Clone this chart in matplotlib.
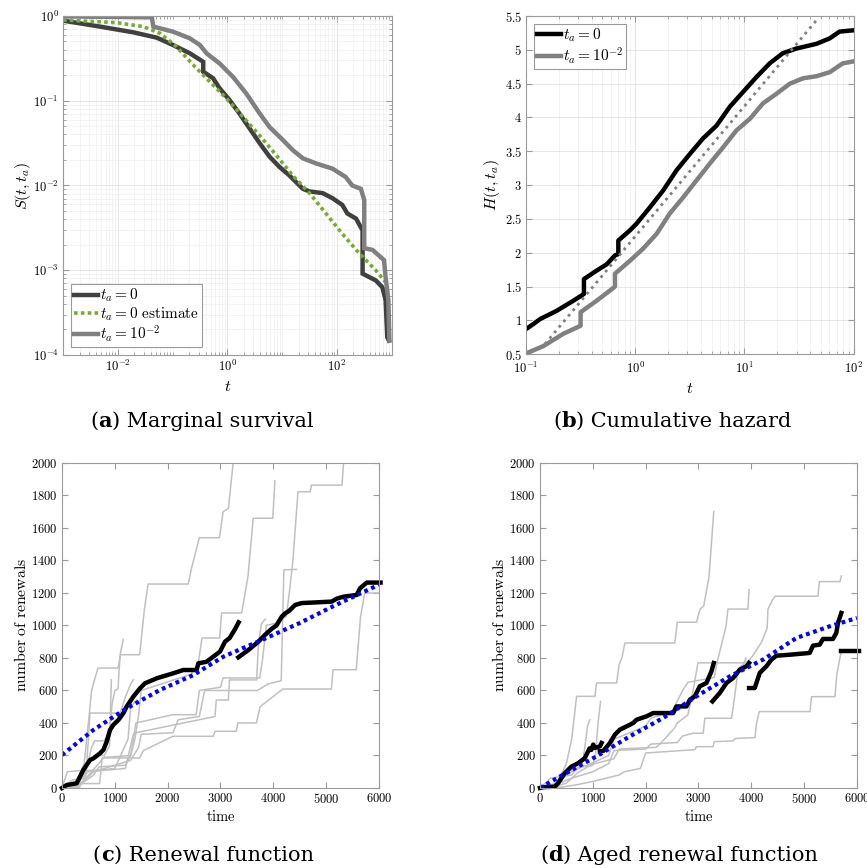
import numpy as np
import matplotlib
matplotlib.use("Agg")
import matplotlib.pyplot as plt
from matplotlib.ticker import FixedLocator, LogLocator, FuncFormatter, NullFormatter, MultipleLocator

plt.rcParams['mathtext.fontset'] = 'cm'
plt.rcParams['font.family'] = 'serif'
plt.rcParams['font.serif'] = ['DejaVu Serif']
plt.rcParams['axes.unicode_minus'] = False

# ---------------- (a) marginal survival ----------------
a_t0 = [0.001, 0.00479, 0.0193, 0.0513, 0.102, 0.2065, 0.363, 0.363, 0.55, 0.724, 1.096, 1.66,
        2.57, 3.89, 5.89, 8.91, 13.5, 24.0, 31.6, 55.0, 83.2, 126, 155, 224, 295, 295, 513, 676,
        776, 832, 891]
a_S0 = [0.881, 0.748, 0.641, 0.555, 0.454, 0.363, 0.288, 0.220, 0.184, 0.140, 0.102, 0.0708,
        0.0468, 0.0316, 0.0219, 0.0166, 0.0132, 0.00912, 0.00851, 0.00813, 0.00708, 0.00589,
        0.00468, 0.00407, 0.00295, 0.000912, 0.000759, 0.000631, 0.000447, 0.000162, 0.000148]
a_test = [0.001, 0.00955, 0.0295, 0.0589, 0.1175, 0.24, 0.479, 0.955, 1.93, 3.89, 7.76, 15.5,
          31.6, 63.1, 126, 257, 513, 776]
a_Sest = [0.897, 0.834, 0.748, 0.624, 0.435, 0.263, 0.1675, 0.107, 0.0646, 0.0389, 0.0229,
          0.0132, 0.00813, 0.00468, 0.00269, 0.00158, 0.001, 0.000724]
a_t1 = [0.001, 0.0417, 0.0447, 0.102, 0.2065, 0.316, 0.417, 0.724, 1.26, 2.21, 3.89, 5.89, 10.2,
        15.5, 24.0, 41.7, 83.2, 145, 191, 275, 316, 316, 447, 724, 776, 871, 912]
a_S1 = [0.989, 0.964, 0.748, 0.653, 0.545, 0.454, 0.363, 0.275, 0.192, 0.122, 0.0708, 0.049,
        0.0347, 0.0263, 0.0209, 0.0182, 0.0158, 0.0126, 0.01, 0.00912, 0.00676, 0.00182,
        0.00174, 0.00132, 0.000832, 0.000447, 0.000148]

# ---------------- (b) cumulative hazard ----------------
b_t0 = [0.1, 0.1167, 0.135, 0.1905, 0.271, 0.339, 0.339, 0.443, 0.5495, 0.652, 0.700, 0.700,
        0.893, 1.028, 1.36, 1.80, 2.39, 3.16, 4.17, 5.55, 7.35, 9.73, 12.9, 17.0, 22.4, 29.9,
        45.7, 60.3, 74.1, 100]
b_H0 = [0.87, 0.945, 1.02, 1.14, 1.29, 1.39, 1.61, 1.735, 1.83, 1.96, 1.98, 2.18, 2.33, 2.43,
        2.67, 2.92, 3.22, 3.46, 3.69, 3.88, 4.16, 4.38, 4.60, 4.80, 4.95, 5.02, 5.09, 5.17,
        5.27, 5.29]
b_t1 = [0.1, 0.1445, 0.219, 0.316, 0.316, 0.443, 0.586, 0.652, 0.652, 0.893, 1.18, 1.57, 2.07,
        2.75, 3.64, 4.82, 6.38, 8.45, 11.2, 14.8, 19.6, 26.0, 34.4, 45.6, 60.3, 79.4, 100]
b_H1 = [0.51, 0.62, 0.80, 0.92, 1.12, 1.29, 1.44, 1.50, 1.69, 1.88, 2.06, 2.28, 2.58, 2.82,
        3.07, 3.32, 3.56, 3.81, 3.98, 4.21, 4.35, 4.50, 4.58, 4.61, 4.67, 4.80, 4.83]
b_tfit = [0.149, 45.7]
b_Hfit = [0.65, 5.44]

# ---------------- (c) renewal function ----------------
c_runs_t = [
    [0, 200, 300, 420, 500, 560, 680, 1060, 1110, 1470, 1560, 1630, 2390, 2450, 2600, 2980, 3050, 3150, 3240],
    [0, 300, 450, 560, 620, 800, 900, 950, 1000, 1060, 1100, 1160],
    [0, 350, 800, 900, 1300, 1380, 1450, 1500, 2350, 2450, 2580, 2650, 2985, 3020, 3400, 3520, 3620, 3990, 4030],
    [0, 300, 600, 700, 1200, 1300, 1400, 2100, 2540, 2600, 3000, 3050, 3742, 3800, 3868, 4057, 4247, 4310, 4372, 4467, 4700, 4720, 5300, 5330],
    [0, 400, 600, 900, 1300, 1450, 1500, 2100, 2200, 2600, 2700, 3700, 3800, 3900, 4150, 4200, 4440],
    [0, 334, 360, 713, 760, 1470, 1540, 2100, 2860, 2900, 3300, 3330, 3680, 3750, 4180, 5100, 5130, 5570, 5650, 5730, 6000],
    [0, 250, 500, 1200, 1250, 1350, 1400, 2600, 2896, 2920, 3149, 3170, 3685, 3720, 3780, 3850],
    [0, 100, 300, 700, 1000, 1250, 1300, 1413],
    [0, 150, 400, 450, 700, 800, 900, 935],
    [0, 200, 450, 500, 530, 1100, 1200, 1300, 1350],
]
c_runs_n = [
    [0, 10, 60, 150, 400, 600, 738, 738, 820, 820, 1100, 1255, 1255, 1350, 1540, 1540, 1700, 1720, 2000],
    [0, 20, 100, 250, 290, 290, 350, 520, 600, 610, 820, 915],
    [0, 20, 190, 190, 200, 300, 450, 600, 690, 700, 770, 923, 923, 1077, 1077, 1300, 1660, 1660, 1890],
    [0, 10, 80, 130, 140, 200, 400, 451, 451, 600, 620, 677, 677, 800, 1000, 1015, 1056, 1220, 1405, 1823, 1823, 1864, 1864, 2000],
    [0, 40, 100, 130, 170, 250, 330, 340, 420, 440, 600, 600, 620, 640, 660, 1343, 1345],
    [0, 5, 27, 27, 185, 185, 230, 318, 318, 349, 349, 400, 400, 500, 609, 609, 728, 728, 1050, 1200, 1200],
    [0, 30, 100, 120, 190, 330, 340, 420, 440, 541, 541, 665, 665, 900, 1014, 1040],
    [0, 100, 105, 110, 120, 300, 500, 541],
    [0, 5, 30, 150, 200, 200, 260, 666],
    [0, 50, 60, 300, 461, 461, 560, 640, 666],
]
c_black1_t = [0, 89, 278, 341, 404, 530, 593, 719, 783, 846, 909, 971, 1066, 1161, 1224, 1350, 1476,
              1570, 1793, 2108, 2297, 2549, 2581, 2738, 2864, 2990, 3085, 3174, 3269, 3344]
c_black1_n = [0, 18, 29, 70, 111, 172, 182, 213, 234, 285, 357, 388, 418, 460, 501, 562, 613,
              644, 675, 706, 726, 726, 767, 777, 808, 839, 900, 923, 974, 1019]
c_black2_t = [3338, 3527, 3716, 3843, 3970, 4060, 4159, 4222, 4300, 4411, 4537, 4800, 5105, 5200,
              5326, 5579, 5642, 5768, 6030]
c_black2_n = [804, 849, 900, 942, 980, 1000, 1054, 1074, 1090, 1126, 1138, 1142, 1147, 1165,
              1177, 1188, 1229, 1264, 1264]
c_mean_t = [0, 593, 1224, 1855, 2486, 3054, 3868, 4499, 5130, 6000]
c_mean_n = [203, 357, 490, 603, 695, 808, 923, 1015, 1118, 1251]

# ---------------- (d) aged renewal function ----------------
d_runs_t = [
    [0, 300, 400, 500, 600, 693, 1040, 1070, 1450, 1500, 1550, 1607, 2553, 2600, 2962, 3030, 3100, 3200, 3290],
    [0, 350, 500, 900, 1300, 1400, 2000, 2100, 2500, 2700, 2800, 3300, 3350, 3450, 3520, 3559, 3937, 3958],
    [0, 300, 600, 800, 1400, 1500, 2200, 2300, 2550, 2600, 2800, 2900, 2990, 3880, 4000, 4200, 4300, 4316, 4400, 4450, 5262, 5290, 5680, 5704],
    [0, 200, 400, 600, 700, 800, 850, 900, 945],
    [0, 400, 700, 1000, 1500, 1600, 1900, 2000, 2934, 2960, 3275, 3300, 3650, 3700, 4070, 4100, 4150, 5111, 5140, 5584, 5620, 5700, 5720, 6000],
    [0, 300, 600, 1000, 1300, 1400, 2000, 2100, 2600, 2700, 2902, 3091, 3120, 3628, 3700, 3750, 3800, 3850, 3900],
    [0, 300, 500, 700, 900, 1000, 1050, 1100, 1147],
]
d_runs_n = [
    [0, 20, 80, 150, 300, 564, 564, 646, 646, 760, 800, 892, 892, 1020, 1020, 1100, 1120, 1300, 1702],
    [0, 10, 100, 140, 200, 300, 380, 430, 470, 600, 650, 680, 769, 900, 993, 1101, 1101, 1220],
    [0, 30, 100, 130, 180, 240, 250, 280, 370, 400, 450, 600, 770, 770, 800, 900, 985, 1100, 1157, 1180, 1180, 1270, 1270, 1305],
    [0, 60, 70, 80, 120, 150, 250, 380, 420],
    [0, 5, 20, 40, 80, 100, 120, 215, 236, 254, 254, 285, 290, 305, 310, 400, 470, 470, 562, 562, 700, 839, 850, 850],
    [0, 20, 60, 100, 150, 230, 240, 270, 280, 320, 337, 337, 429, 429, 600, 726, 750, 760, 800],
    [0, 10, 30, 90, 130, 140, 200, 400, 533],
]
d_black_t = [
    [0, 63, 278, 341, 467, 593, 719, 846, 909, 940, 972, 1008, 1040, 1134, 1166],
    [1134, 1200, 1324, 1418, 1513, 1639, 1765, 1828, 2017, 2143, 2521, 2584, 2773, 2836, 2931, 3025, 3151, 3246, 3290],
    [3265, 3404, 3530, 3656, 3782, 3908, 3958],
    [3958, 4065, 4160, 4286, 4381, 4475, 4727, 5106, 5168, 5294, 5357, 5546, 5609, 5641, 5704],
    [5704, 6040],
]
d_black_n = [
    [0, 5, 8, 29, 90, 131, 152, 183, 224, 244, 234, 267, 246, 256, 277],
    [226, 228, 277, 328, 359, 379, 400, 420, 441, 461, 461, 502, 502, 543, 564, 626, 646, 718, 769],
    [533, 585, 646, 677, 728, 749, 769],
    [615, 615, 708, 749, 790, 814, 820, 831, 876, 882, 917, 917, 954, 1015, 1077],
    [845, 845],
]
d_mean_t = [0, 441, 1072, 1702, 2332, 2962, 3593, 4223, 4853, 5484, 6000]
d_mean_n = [0, 82, 195, 318, 431, 564, 687, 790, 923, 995, 1046]

# ---------------- figure ----------------
edge = '#9a9a9a'
fig = plt.figure(figsize=(8.67, 8.68), dpi=100)
axa = fig.add_axes([0.0727, 0.591, 0.379, 0.3906])
axb = fig.add_axes([0.6067, 0.592, 0.378, 0.3895])
axc = fig.add_axes([0.0715, 0.0922, 0.3656, 0.3744])
axd = fig.add_axes([0.6228, 0.0922, 0.3656, 0.3744])

logfmt = FuncFormatter(lambda v, p: r'$10^{%d}$' % int(round(np.log10(v))))
numfmt = FuncFormatter(lambda v, p: r'$%g$' % v)


def boxit(ax):
    for s in ax.spines.values():
        s.set_color(edge)
        s.set_linewidth(0.8)
    ax.tick_params(which='both', direction='in', top=True, right=True, color=edge,
                   labelsize=9, pad=3)
    ax.tick_params(which='major', length=4)
    ax.tick_params(which='minor', length=2.2)


def gridit(ax):
    ax.grid(True, which='major', color='#e2e2e2', lw=0.6)
    ax.grid(True, which='minor', color='#efefef', lw=0.5)
    ax.set_axisbelow(True)


legkw = dict(fontsize=11, fancybox=False, edgecolor=edge, framealpha=1, handlelength=1.6,
             handletextpad=0.1, labelspacing=0.05, borderpad=0.2, borderaxespad=0.5)

# (a)
axa.loglog(a_t0, a_S0, color='#404040', lw=3.2, label=r'$t_a = 0$', solid_joinstyle='miter')
axa.loglog(a_test, a_Sest, color='#77ac30', lw=2.6, dashes=(1, 0.9), label=r'$t_a = 0\ \mathrm{estimate}$')
axa.loglog(a_t1, a_S1, color='#808080', lw=3.2, label=r'$t_a = 10^{-2}$', solid_joinstyle='miter')
axa.set_xlim(1e-3, 1e3)
axa.set_ylim(1e-4, 1)
axa.xaxis.set_major_locator(FixedLocator([1e-2, 1, 1e2]))
axa.xaxis.set_minor_locator(LogLocator(base=10, subs=np.arange(1, 10), numticks=30))
axa.xaxis.set_minor_formatter(NullFormatter())
axa.xaxis.set_major_formatter(logfmt)
axa.yaxis.set_major_locator(FixedLocator([1e-4, 1e-3, 1e-2, 1e-1, 1]))
axa.yaxis.set_minor_locator(LogLocator(base=10, subs=np.arange(2, 10), numticks=30))
axa.yaxis.set_minor_formatter(NullFormatter())
axa.yaxis.set_major_formatter(logfmt)
boxit(axa)
gridit(axa)
axa.set_xlabel(r'$t$', fontsize=11.5, labelpad=3)
axa.set_ylabel(r'$S(t,t_a)$', fontsize=11.5, labelpad=0)
lg = axa.legend(loc='lower left', **legkw)
lg.get_frame().set_linewidth(0.8)

# (b)
axb.semilogx(b_t0, b_H0, color='black', lw=3.2, label=r'$t_a = 0$')
axb.semilogx(b_t1, b_H1, color='#808080', lw=3.2, label=r'$t_a = 10^{-2}$')
axb.semilogx(b_tfit, b_Hfit, color='#808080', lw=2, dashes=(1, 1.6))
axb.set_xlim(0.1, 100)
axb.set_ylim(0.5, 5.5)
axb.xaxis.set_major_locator(FixedLocator([0.1, 1, 10, 100]))
axb.xaxis.set_minor_locator(LogLocator(base=10, subs=np.arange(2, 10), numticks=30))
axb.xaxis.set_minor_formatter(NullFormatter())
axb.xaxis.set_major_formatter(logfmt)
axb.yaxis.set_major_locator(MultipleLocator(0.5))
axb.yaxis.set_major_formatter(numfmt)
boxit(axb)
gridit(axb)
axb.tick_params(axis='x', which='major', pad=5)
axb.set_xlabel(r'$t$', fontsize=11.5, labelpad=3)
axb.set_ylabel(r'$H(t,t_a)$', fontsize=11.5, labelpad=2)
lg = axb.legend(loc='upper left', **legkw)
lg.get_frame().set_linewidth(0.8)

# (c) and (d)
for ax, runs_t, runs_n in [(axc, c_runs_t, c_runs_n), (axd, d_runs_t, d_runs_n)]:
    for tt, nn in zip(runs_t, runs_n):
        ax.plot(tt, nn, color='#c0c0c0', lw=1.1)

axc.plot(c_black1_t, c_black1_n, color='black', lw=3.2, clip_on=False)
axc.plot(c_black2_t, c_black2_n, color='black', lw=3.2, clip_on=False)
axc.plot(c_mean_t, c_mean_n, color='#0000ff', lw=3, dashes=(0.9, 0.9))
for tt, nn in zip(d_black_t, d_black_n):
    axd.plot(tt, nn, color='black', lw=3.2, clip_on=False)
axd.plot(d_mean_t, d_mean_n, color='#0000ff', lw=3, dashes=(0.9, 0.9))

for ax in (axc, axd):
    ax.set_xlim(0, 6000)
    ax.set_ylim(0, 2000)
    ax.xaxis.set_major_locator(MultipleLocator(1000))
    ax.yaxis.set_major_locator(MultipleLocator(200))
    ax.xaxis.set_major_formatter(numfmt)
    ax.yaxis.set_major_formatter(numfmt)
    boxit(ax)
    ax.set_xlabel(r'$\mathrm{time}$', fontsize=10.5, labelpad=2)
    ax.set_ylabel(r'$\mathrm{number\ of\ renewals}$', fontsize=11.3, labelpad=1)

# captions
capfont = 'DejaVu Serif'
capfs = 15


def caption(x, y, letter, rest):
    t1 = fig.text(x, y, '(', fontsize=capfs, family=capfont, va='baseline', ha='left')
    t2 = axa.annotate(letter, xy=(1, 0), xycoords=t1, va='bottom', ha='left', fontsize=capfs,
                      family=capfont, fontweight='bold', annotation_clip=False)
    axa.annotate(') ' + rest, xy=(1, 0), xycoords=t2, va='bottom', ha='left', fontsize=capfs,
                 family=capfont, annotation_clip=False)


caption(0.104, 0.508, 'a', 'Marginal survival')
caption(0.638, 0.508, 'b', 'Cumulative hazard')
caption(0.107, 0.0085, 'c', 'Renewal function')
caption(0.623, 0.0085, 'd', 'Aged renewal function')

fig.savefig('out.png', dpi=100)
